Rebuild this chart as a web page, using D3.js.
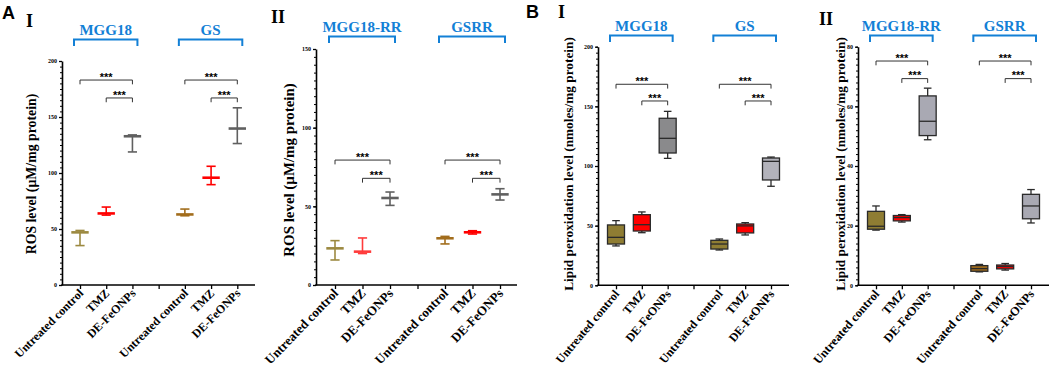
<!DOCTYPE html>
<html>
<head>
<meta charset="utf-8">
<script src="https://cdn.jsdelivr.net/npm/d3@7"></script>
<style>
body { margin: 0; background: #fff; }
svg { display: block; }
</style>
</head>
<body>
<script>
// categories on each x axis (two cell lines, three treatments each)
var treatments = ["Untreated control", "TMZ", "DE-FeONPs"];
var groupsA1 = ["MGG18", "GS"];
var groupsA2 = ["MGG18-RR", "GSRR"];
var groupsB1 = ["MGG18", "GS"];
var groupsB2 = ["MGG18-RR", "GSRR"];

// A I - ROS level, mean with range bars
var rosA1Mean = [47, 63.9, 132.8, 63, 95.8, 139.7];
var rosA1Low = [35.2, 62.4, 118.8, 61.8, 89.6, 126.3];
var rosA1High = [48.7, 69.6, 134, 67.8, 106, 158.2];

// A II - ROS level, resistant lines
var rosA2Mean = [23.3, 21.2, 55.3, 29.7, 33.5, 57.6];
var rosA2Low = [15.9, 20, 50.6, 26.1, 32.4, 54];
var rosA2High = [28.2, 29.9, 59.1, 30.9, 34.5, 61.2];

// B I - lipid peroxidation, box plots
var lpoB1Min = [33, 44.1, 106.4, 29.6, 42.2, 83];
var lpoB1Q1 = [34.6, 45.5, 110.9, 30.4, 43.9, 88.3];
var lpoB1Med = [40.2, 50.8, 123.2, 34.6, 49.8, 103.9];
var lpoB1Q3 = [50.6, 59.2, 140, 37.7, 51.4, 106.7];
var lpoB1Max = [54.2, 61.5, 145.8, 38.8, 52.5, 107.5];

// B II - lipid peroxidation, resistant lines
var lpoB2Min = [18.5, 21.2, 48.8, 4.5, 5.1, 20.9];
var lpoB2Q1 = [18.8, 21.6, 50.2, 4.7, 5.5, 22.3];
var lpoB2Med = [19.8, 22.7, 55, 5.6, 6.3, 26.6];
var lpoB2Q3 = [24.8, 23.4, 63.5, 6.6, 6.8, 30.5];
var lpoB2Max = [26.6, 23.7, 66.1, 7, 7.3, 32.1];

// significance bracket heights (outer, inner)
var sigA1 = [183, 167];
var sigA2 = [79.4, 67.8];
var sigB1 = [168.5, 154.5];
var sigB2 = [75.2, 69.3];

var rosTitle = "ROS level (\u00b5M/mg protein)";
var lpoTitle = "Lipid peroxidation level (nmoles/mg protein)";

var serif = "'Liberation Serif', 'Times New Roman', serif";
var sans = "'Liberation Sans', Arial, sans-serif";
var blue = "#1380d6";
var slots = [0, 1, 2, 4, 5, 6];

var svg = d3.select("body").append("svg").attr("width", 1052).attr("height", 366);

// panel letters
svg.append("text").attr("x", 2).attr("y", 18.5).text("A")
  .attr("font-family", sans).attr("font-weight", "bold").attr("font-size", 18);
svg.append("text").attr("x", 526).attr("y", 17.5).text("B")
  .attr("font-family", sans).attr("font-weight", "bold").attr("font-size", 18);

var drawPanel = function(p) {
  var g = svg.append("g");
  var y = d3.scaleLinear().domain([0, p.yMax]).range([p.bottom, p.top]);
  var x = d3.scaleLinear().domain([0, 6]).range([p.xFirst, p.xLast]);

  // roman numeral
  g.append("text").attr("x", p.numX).attr("y", p.numY).text(p.num)
    .attr("font-family", serif).attr("font-weight", "bold").attr("font-size", 18);

  // y axis, minor ticks then major ticks with labels
  var minor = d3.range(0, p.yMax + 0.001, p.minor);
  g.append("g").attr("transform", "translate(" + p.left + ",0)")
    .call(d3.axisLeft(y).tickValues(minor).tickSize(2).tickFormat(""))
    .call(function(a) { a.select(".domain").remove(); })
    .selectAll("line").attr("stroke-width", 1);
  var ya = g.append("g").attr("transform", "translate(" + p.left + ",0)")
    .call(d3.axisLeft(y).tickValues(d3.range(0, p.yMax + 0.001, p.major)).tickSize(3).tickPadding(2).tickSizeOuter(0));
  ya.select(".domain").attr("stroke-width", 1.6);
  ya.selectAll("line").attr("stroke-width", 1.3);
  ya.selectAll("text").attr("font-family", serif).attr("font-weight", "bold").attr("font-size", 6);

  // x axis
  var xa = g.append("g").attr("transform", "translate(0," + p.bottom + ")")
    .call(d3.axisBottom(x).tickValues(d3.range(0, 7)).tickSize(4).tickFormat(""));
  xa.select(".domain").remove();
  xa.selectAll("line").attr("stroke-width", 1.3);
  g.append("line").attr("x1", p.left - 0.8).attr("x2", p.right)
    .attr("y1", p.bottom).attr("y2", p.bottom).attr("stroke", "#000").attr("stroke-width", 1.6);

  // x category labels
  slots.forEach(function(s, i) {
    g.append("text")
      .attr("transform", "translate(" + (x(s) + 4) + "," + (p.bottom + 9) + ") rotate(" + p.rot + ")")
      .attr("text-anchor", "end")
      .attr("font-family", serif).attr("font-weight", "bold").attr("font-size", p.catFont)
      .text(treatments[i % 3]);
  });

  // y title
  g.append("text")
    .attr("transform", "translate(" + p.titleX + "," + p.titleY + ") rotate(-90)")
    .attr("text-anchor", "middle").attr("dy", "0.33em")
    .attr("font-family", serif).attr("font-weight", "bold").attr("font-size", p.titleFont)
    .text(p.title);

  // cell line labels and blue brackets
  p.groups.forEach(function(name, k) {
    var x0 = x(slots[k * 3]) - 6, x1 = x(slots[k * 3 + 2]) + 5;
    g.append("text").attr("x", (x0 + x1) / 2).attr("y", p.groupY).text(name)
      .attr("text-anchor", "middle").attr("fill", blue)
      .attr("font-family", serif).attr("font-weight", "bold").attr("font-size", 15);
    g.append("path")
      .attr("d", "M" + x0 + "," + (p.groupY + 11) + "V" + (p.groupY + 4.5) + "H" + x1 + "V" + (p.groupY + 11))
      .attr("fill", "none").attr("stroke", blue).attr("stroke-width", 2);

    // significance brackets
    [[0, p.sig[0]], [1, p.sig[1]]].forEach(function(b) {
      var a = x(slots[k * 3 + b[0]]), c = x(slots[k * 3 + 2]), yy = y(b[1]);
      g.append("path").attr("d", "M" + a + "," + (yy + 4.3) + "V" + yy + "H" + c + "V" + (yy + 4.3))
        .attr("fill", "none").attr("stroke", "#333").attr("stroke-width", 1);
      g.append("text").attr("x", (a + c) / 2).attr("y", yy + 0.8).text("***")
        .attr("text-anchor", "middle").attr("font-family", sans).attr("font-weight", "bold")
        .attr("font-size", 11);
    });
  });

  // marks
  slots.forEach(function(s, i) {
    var cx = x(s), col = p.colors[i];
    if (p.mean) {
      g.append("line").attr("x1", cx).attr("x2", cx).attr("y1", y(p.low[i])).attr("y2", y(p.high[i]))
        .attr("stroke", col).attr("stroke-width", 1.6);
      [p.low[i], p.high[i]].forEach(function(v) {
        g.append("line").attr("x1", cx - 4.6).attr("x2", cx + 4.6).attr("y1", y(v)).attr("y2", y(v))
          .attr("stroke", col).attr("stroke-width", 1.6);
      });
      g.append("line").attr("x1", cx - 8.7).attr("x2", cx + 8.7).attr("y1", y(p.mean[i])).attr("y2", y(p.mean[i]))
        .attr("stroke", col).attr("stroke-width", 2.6);
    } else {
      var ln = "#2a2a2a";
      g.append("line").attr("x1", cx).attr("x2", cx).attr("y1", y(p.max[i])).attr("y2", y(p.q3[i]))
        .attr("stroke", ln).attr("stroke-width", 1.3);
      g.append("line").attr("x1", cx).attr("x2", cx).attr("y1", y(p.q1[i])).attr("y2", y(p.min[i]))
        .attr("stroke", ln).attr("stroke-width", 1.3);
      [p.min[i], p.max[i]].forEach(function(v) {
        g.append("line").attr("x1", cx - 3.8).attr("x2", cx + 3.8).attr("y1", y(v)).attr("y2", y(v))
          .attr("stroke", ln).attr("stroke-width", 1.3);
      });
      g.append("rect").attr("x", cx - 8.5).attr("width", 17)
        .attr("y", y(p.q3[i])).attr("height", y(p.q1[i]) - y(p.q3[i]))
        .attr("fill", col).attr("stroke", ln).attr("stroke-width", 1.3);
      g.append("line").attr("x1", cx - 8.5).attr("x2", cx + 8.5).attr("y1", y(p.med[i])).attr("y2", y(p.med[i]))
        .attr("stroke", ln).attr("stroke-width", 1.3);
    }
  });
};

var olive = "#8f7d33", brown = "#a26d1c", red = "#ff0000";

drawPanel({
  left: 62, right: 255, top: 61, bottom: 285, xFirst: 80, xLast: 237.3,
  yMax: 200, major: 50, minor: 5, num: "I", numX: 26, numY: 26.5,
  groups: groupsA1, groupY: 35, sig: sigA1, rot: -45, catFont: 12,
  title: rosTitle, titleX: 31, titleY: 174, titleFont: 13.8,
  mean: rosA1Mean, low: rosA1Low, high: rosA1High,
  colors: ["#9c8940", red, "#606060", brown, red, "#606060"]
});
drawPanel({
  left: 316, right: 517, top: 49, bottom: 285, xFirst: 335, xLast: 500,
  yMax: 150, major: 50, minor: 5, num: "II", numX: 271, numY: 23,
  groups: groupsA2, groupY: 32, sig: sigA2, rot: -46, catFont: 13,
  title: rosTitle, titleX: 289, titleY: 170, titleFont: 14.9,
  mean: rosA2Mean, low: rosA2Low, high: rosA2High,
  colors: ["#9c8940", "#ff3b3b", "#606060", brown, red, "#606060"]
});
drawPanel({
  left: 598, right: 789, top: 46.7, bottom: 285.3, xFirst: 616, xLast: 771,
  yMax: 200, major: 50, minor: 5, num: "I", numX: 558, numY: 18,
  groups: groupsB1, groupY: 31, sig: sigB1, rot: -50, catFont: 12,
  title: lpoTitle, titleX: 569, titleY: 164, titleFont: 13.3,
  min: lpoB1Min, q1: lpoB1Q1, med: lpoB1Med, q3: lpoB1Q3, max: lpoB1Max,
  colors: [olive, red, "#8a8a8c", olive, red, "#b3b3bb"]
});
drawPanel({
  left: 858, right: 1049, top: 46.7, bottom: 285.3, xFirst: 876, xLast: 1031,
  yMax: 80, major: 20, minor: 2, num: "II", numX: 819, numY: 25,
  groups: groupsB2, groupY: 31, sig: sigB2, rot: -49, catFont: 12.3,
  title: lpoTitle, titleX: 841, titleY: 164, titleFont: 13.3,
  min: lpoB2Min, q1: lpoB2Q1, med: lpoB2Med, q3: lpoB2Q3, max: lpoB2Max,
  colors: [olive, red, "#a9a9b3", brown, red, "#a9a9b3"]
});
</script>
</body>
</html>
